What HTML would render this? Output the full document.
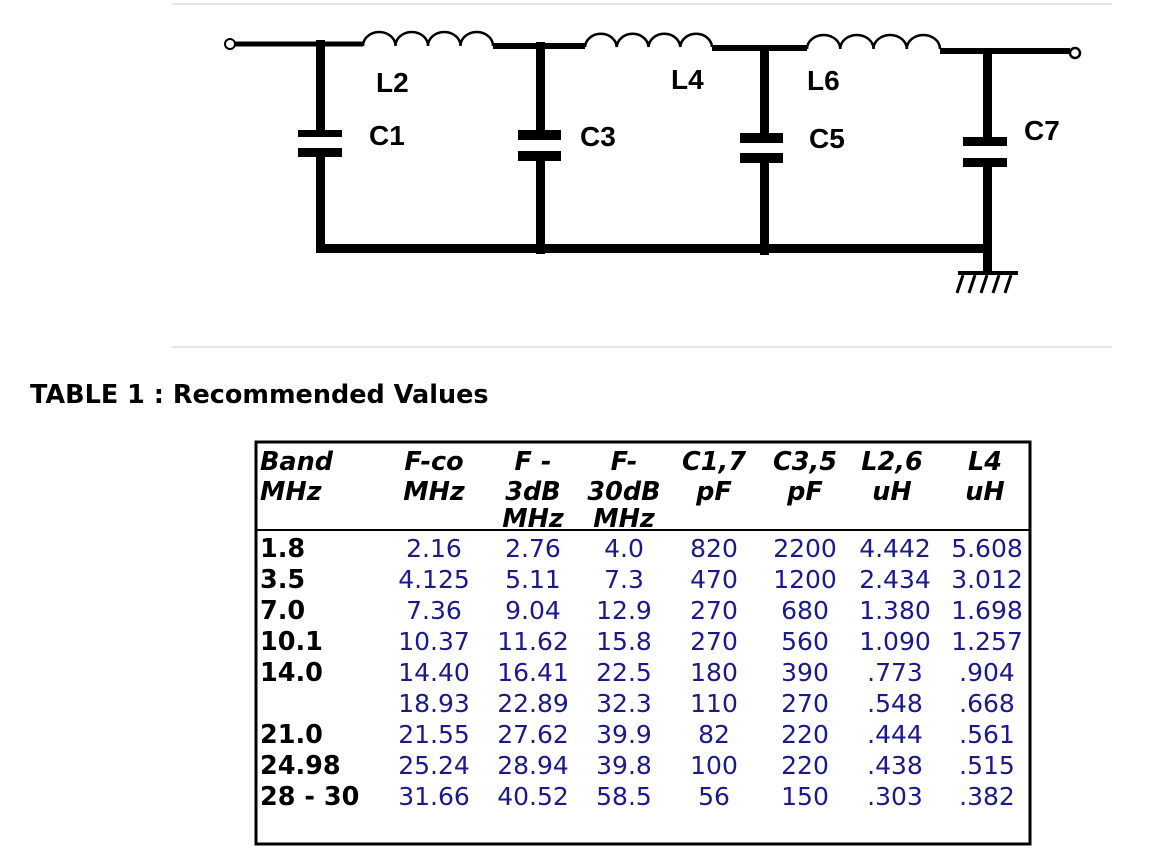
<!DOCTYPE html>
<html><head><meta charset="utf-8"><style>
html,body{margin:0;padding:0;background:#fff;}
svg{display:block;}
</style></head><body>
<svg width="1152" height="851" viewBox="0 0 1152 851" xmlns="http://www.w3.org/2000/svg">
<rect width="1152" height="851" fill="#fff"/>
<line x1="172" y1="4" x2="1112" y2="4" stroke="#e6e6e6" stroke-width="2"/>
<line x1="172" y1="347" x2="1112" y2="347" stroke="#e6e6e6" stroke-width="2"/>
<g stroke="#000" fill="none">
<circle cx="230" cy="44" r="5" stroke-width="2"/>
<line x1="235" y1="44" x2="363" y2="44" stroke-width="5"/>
<path d="M363,46 a16.25,14 0 0 1 32.5,0 a16.25,14 0 0 1 32.5,0 a16.25,14 0 0 1 32.5,0 a16.25,14 0 0 1 32.5,0" stroke-width="2.5"/>
<line x1="493" y1="46" x2="585" y2="46" stroke-width="6"/>
<path d="M585,47 a15.9,14 0 0 1 31.75,0 a15.9,14 0 0 1 31.75,0 a15.9,14 0 0 1 31.75,0 a15.9,14 0 0 1 31.75,0" stroke-width="2.5"/>
<line x1="712" y1="48" x2="807" y2="48" stroke-width="6"/>
<path d="M807,49 a16.6,14 0 0 1 33.25,0 a16.6,14 0 0 1 33.25,0 a16.6,14 0 0 1 33.25,0 a16.6,14 0 0 1 33.25,0" stroke-width="2.5"/>
<line x1="940" y1="51" x2="1070" y2="51" stroke-width="6"/>
<circle cx="1075" cy="53" r="5" stroke-width="2.5"/>
</g>
<g fill="#000">
<rect x="316" y="40" width="9" height="92"/>
<rect x="298" y="130" width="44" height="7"/>
<rect x="298" y="148" width="44" height="9"/>
<rect x="316" y="155" width="9" height="97"/>
<rect x="536" y="42" width="9" height="90"/>
<rect x="518" y="130" width="43" height="10"/>
<rect x="518" y="151" width="43" height="10"/>
<rect x="536" y="158" width="9" height="96"/>
<rect x="760" y="45" width="9" height="90"/>
<rect x="740" y="133" width="43" height="10"/>
<rect x="740" y="153" width="43" height="10"/>
<rect x="760" y="160" width="9" height="95"/>
<rect x="983" y="50" width="9" height="88"/>
<rect x="963" y="137" width="44" height="9"/>
<rect x="963" y="158" width="44" height="9"/>
<rect x="983" y="165" width="9" height="110"/>
<rect x="316" y="244" width="676" height="9"/>
<rect x="958" y="271" width="60" height="4"/>
</g>
<g stroke="#000" stroke-width="3">
<line x1="963" y1="275" x2="957" y2="293"/>
<line x1="975" y1="275" x2="969" y2="293"/>
<line x1="987" y1="275" x2="981" y2="293"/>
<line x1="999" y1="275" x2="993" y2="293"/>
<line x1="1011" y1="275" x2="1005" y2="293"/>
</g>
<g font-family="Liberation Sans, sans-serif" font-weight="bold" font-size="28" fill="#000">
<text x="376" y="92">L2</text>
<text x="369" y="145">C1</text>
<text x="580" y="146">C3</text>
<text x="671" y="89">L4</text>
<text x="807" y="90">L6</text>
<text x="809" y="148">C5</text>
<text x="1024" y="140">C7</text>
</g>
<text x="30" y="403" font-family="DejaVu Sans, sans-serif" font-weight="bold" font-size="25.5" fill="#000">TABLE 1 : Recommended Values</text>
<rect x="256" y="442" width="774" height="402" fill="none" stroke="#000" stroke-width="3"/>
<line x1="256" y1="530" x2="1030" y2="530" stroke="#000" stroke-width="2"/>
<g font-family="DejaVu Sans, sans-serif" font-weight="bold" font-style="italic" font-size="25.5" fill="#000" text-anchor="middle">
<text x="260" y="470" text-anchor="start">Band</text>
<text x="260" y="500" text-anchor="start">MHz</text>
<text x="434" y="470">F-co</text><text x="434" y="500">MHz</text>
<text x="533" y="470">F -</text><text x="533" y="500">3dB</text><text x="533" y="527">MHz</text>
<text x="624" y="470">F-</text><text x="624" y="500">30dB</text><text x="624" y="527">MHz</text>
<text x="714" y="470">C1,7</text><text x="714" y="500">pF</text>
<text x="805" y="470">C3,5</text><text x="805" y="500">pF</text>
<text x="892" y="470">L2,6</text><text x="892" y="500">uH</text>
<text x="985" y="470">L4</text><text x="985" y="500">uH</text>
</g>
<g font-family="DejaVu Sans, sans-serif" font-weight="bold" font-size="25.5" fill="#000">
<text x="260" y="557">1.8</text>
<text x="260" y="588">3.5</text>
<text x="260" y="619">7.0</text>
<text x="260" y="650">10.1</text>
<text x="260" y="681">14.0</text>
<text x="260" y="743">21.0</text>
<text x="260" y="774">24.98</text>
<text x="260" y="805">28 - 30</text>
</g>
<g font-family="DejaVu Sans, sans-serif" font-size="25" fill="#1a1a8c" text-anchor="middle">
<text x="434" y="557">2.16</text><text x="533" y="557">2.76</text><text x="624" y="557">4.0</text><text x="714" y="557">820</text><text x="805" y="557">2200</text><text x="895" y="557">4.442</text><text x="987" y="557">5.608</text>
<text x="434" y="588">4.125</text><text x="533" y="588">5.11</text><text x="624" y="588">7.3</text><text x="714" y="588">470</text><text x="805" y="588">1200</text><text x="895" y="588">2.434</text><text x="987" y="588">3.012</text>
<text x="434" y="619">7.36</text><text x="533" y="619">9.04</text><text x="624" y="619">12.9</text><text x="714" y="619">270</text><text x="805" y="619">680</text><text x="895" y="619">1.380</text><text x="987" y="619">1.698</text>
<text x="434" y="650">10.37</text><text x="533" y="650">11.62</text><text x="624" y="650">15.8</text><text x="714" y="650">270</text><text x="805" y="650">560</text><text x="895" y="650">1.090</text><text x="987" y="650">1.257</text>
<text x="434" y="681">14.40</text><text x="533" y="681">16.41</text><text x="624" y="681">22.5</text><text x="714" y="681">180</text><text x="805" y="681">390</text><text x="895" y="681">.773</text><text x="987" y="681">.904</text>
<text x="434" y="712">18.93</text><text x="533" y="712">22.89</text><text x="624" y="712">32.3</text><text x="714" y="712">110</text><text x="805" y="712">270</text><text x="895" y="712">.548</text><text x="987" y="712">.668</text>
<text x="434" y="743">21.55</text><text x="533" y="743">27.62</text><text x="624" y="743">39.9</text><text x="714" y="743">82</text><text x="805" y="743">220</text><text x="895" y="743">.444</text><text x="987" y="743">.561</text>
<text x="434" y="774">25.24</text><text x="533" y="774">28.94</text><text x="624" y="774">39.8</text><text x="714" y="774">100</text><text x="805" y="774">220</text><text x="895" y="774">.438</text><text x="987" y="774">.515</text>
<text x="434" y="805">31.66</text><text x="533" y="805">40.52</text><text x="624" y="805">58.5</text><text x="714" y="805">56</text><text x="805" y="805">150</text><text x="895" y="805">.303</text><text x="987" y="805">.382</text>
</g>
</svg>
</body></html>
